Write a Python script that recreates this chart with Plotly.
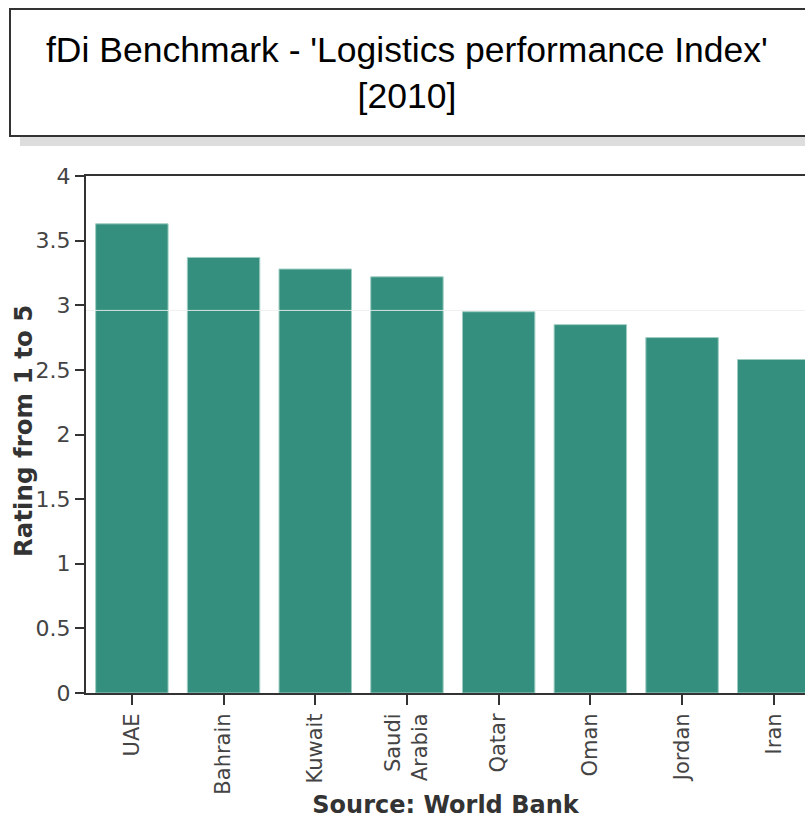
import plotly.graph_objects as go

countries = ["UAE", "Bahrain", "Kuwait", "Saudi<br>Arabia", "Qatar", "Oman", "Jordan", "Iran"]
ratings = [3.63, 3.37, 3.28, 3.22, 2.95, 2.85, 2.75, 2.58]
y_ticks = [0, 0.5, 1, 1.5, 2, 2.5, 3, 3.5, 4]
y_tick_labels = ["0", "0.5", "1", "1.5", "2", "2.5", "3", "3.5", "4"]

title_text = "fDi Benchmark - 'Logistics performance Index'<br>[2010]"
y_title = "Rating from 1 to 5"
x_title = "Source: World Bank"

W, H = 805, 819
ml, mt, mb = 86, 176, 126
pw = W - ml
ph = H - mt - mb

def px_x(p):
    return (p - ml) / pw

def px_y(p):
    return (H - mb - p) / ph

fig = go.Figure()
fig.add_trace(go.Bar(
    x=list(range(len(countries))), y=ratings,
    marker=dict(color="#348f7f", line=dict(color="#9fcdc2", width=1)),
    width=0.79,
))

axis_color = "#333333"

fig.update_layout(
    width=W, height=H,
    margin=dict(l=ml, r=0, t=mt, b=mb, pad=0),
    paper_bgcolor="white", plot_bgcolor="white",
    showlegend=False,
    xaxis=dict(
        range=[-0.5, -0.5 + pw / 91.7],
        tickmode="array", tickvals=list(range(len(countries))), ticktext=countries,
        tickangle=-90, ticks="outside", ticklen=10, tickwidth=2, tickcolor=axis_color,
        showline=True, linecolor=axis_color, linewidth=2, mirror=True,
        showgrid=False, zeroline=False,
        tickfont=dict(family="DejaVu Sans", size=21, color="#444444"),
        title=dict(text="<b>" + x_title + "</b>", font=dict(family="DejaVu Sans", size=24, color="#333333"), standoff=6),
    ),
    yaxis=dict(
        range=[0, 4], tickmode="array", tickvals=y_ticks, ticktext=y_tick_labels,
        ticks="outside", ticklen=9, tickwidth=2, tickcolor=axis_color,
        showline=True, linecolor=axis_color, linewidth=2,
        showgrid=False, zeroline=False,
        tickfont=dict(family="DejaVu Sans", size=22, color="#444444"),
    ),
)

# y-axis title placed as rotated annotation
fig.add_annotation(xref="paper", yref="paper", x=px_x(23), y=px_y(431),
                   text="<b>" + y_title + "</b>", textangle=-90, showarrow=False,
                   xanchor="center", yanchor="middle",
                   font=dict(family="DejaVu Sans", size=24.5, color="#333333"))

# title box shadow and frame
fig.add_shape(type="rect", xref="paper", yref="paper",
              x0=px_x(20), x1=px_x(840), y0=px_y(146), y1=px_y(130),
              fillcolor="#dddddd", line=dict(width=0), layer="above")
fig.add_shape(type="rect", xref="paper", yref="paper",
              x0=px_x(10), x1=px_x(840), y0=px_y(136), y1=px_y(9),
              fillcolor="white", line=dict(color="#333333", width=2), layer="above")
fig.add_annotation(xref="paper", yref="paper", x=px_x(407), y=px_y(73),
                   text=title_text, showarrow=False, xanchor="center", yanchor="middle",
                   font=dict(family="Liberation Sans", size=35.5, color="black"))

# faint horizontal guide line across the plot
fig.add_shape(type="line", xref="paper", yref="y", x0=0, x1=1, y0=2.96, y1=2.96,
              line=dict(color="rgba(235,238,236,0.9)", width=1), layer="above")

fig.write_html(
    "out.html",
    config={"displayModeBar": False},
    post_script="document.body.style.margin='0';document.body.style.overflow='hidden';",
)
